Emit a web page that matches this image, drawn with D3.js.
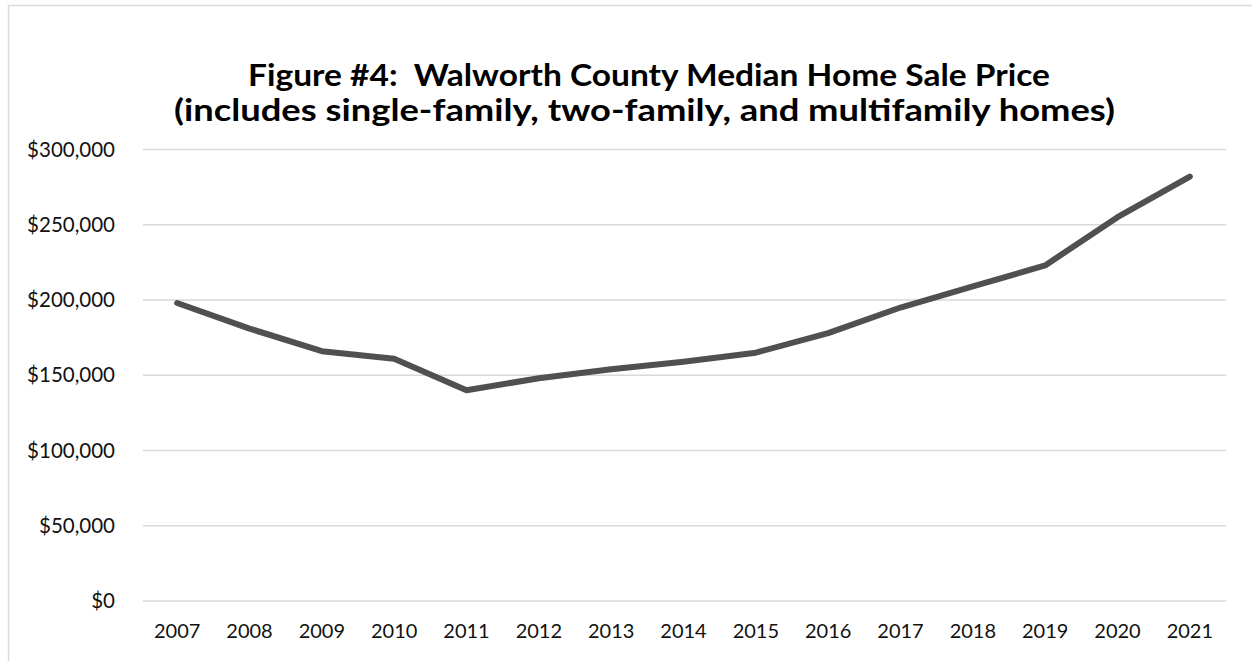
<!DOCTYPE html>
<html>
<head>
<meta charset="utf-8">
<script src="https://cdn.jsdelivr.net/npm/d3@7"></script>
<style>
  body { margin: 0; background: #fff; }
  svg { display: block; font-family: Lato, "Open Sans", sans-serif; }
</style>
</head>
<body>
<script>
// data (median sale price, dollars)
const years = ["2007", "2008", "2009", "2010", "2011", "2012", "2013", "2014",
    "2015", "2016", "2017", "2018", "2019", "2020", "2021"];
const prices = [198000, 181000, 166000, 161000, 140000, 148000, 154000, 159000,
    165000, 178000, 195000, 209000, 223000, 255000, 282000];
const yTicks = [0, 50000, 100000, 150000, 200000, 250000, 300000];
const titleLines = [
    "Figure #4:  Walworth County Median Home Sale Price",
    "(includes single-family, two-family, and multifamily homes)"
];

const width = 1252, height = 661;
const margin = { top: 150, right: 26, bottom: 60, left: 141 };

const svg = d3.select("body").append("svg")
    .attr("width", width)
    .attr("height", height);

// outer chart border (cropped at the right and bottom)
svg.append("path")
    .attr("d", `M8.5,${height} L8.5,5.5 L${width},5.5`)
    .attr("fill", "none")
    .attr("stroke", "#d9d9d9")
    .attr("stroke-width", 1.5);

// title
svg.append("g")
    .selectAll("text")
    .data(titleLines)
    .join("text")
    .attr("x", (d, i) => i == 0 ? 248 : 174)
    .attr("y", (d, i) => 86 + i * 35)
    .attr("textLength", (d, i) => i == 0 ? 802 : 941)
    .attr("lengthAdjust", "spacingAndGlyphs")
    .style("white-space", "pre")
    .style("font-size", "31px")
    .style("font-weight", "bold")
    .style("fill", "#000")
    .text((d) => d);

const x = d3.scaleBand()
    .domain(years)
    .range([margin.left, width - margin.right]);

const y = d3.scaleLinear()
    .domain([0, 300000])
    .range([601, 149.5]);

// gridlines
svg.append("g")
    .selectAll("line")
    .data(yTicks)
    .join("line")
    .attr("x1", margin.left + 2)
    .attr("x2", width - margin.right)
    .attr("y1", (d) => y(d))
    .attr("y2", (d) => y(d))
    .attr("stroke", "#d9d9d9")
    .attr("stroke-width", 1.5);

// y axis labels
const yAxis = svg.append("g")
    .attr("transform", "translate(" + 128 + ",0)")
    .call(d3.axisLeft(y).tickValues(yTicks).tickSize(0).tickPadding(13)
        .tickFormat((d) => "$" + d3.format(",")(d)));
yAxis.select(".domain").remove();
yAxis.selectAll("text")
    .style("font-size", "20.5px")
    .style("font-family", "Lato, sans-serif")
    .style("fill", "#111");

// x axis labels
const xAxis = svg.append("g")
    .attr("transform", "translate(0,618)")
    .call(d3.axisBottom(x).tickSize(0).tickPadding(6));
xAxis.select(".domain").remove();
xAxis.selectAll("text")
    .style("font-size", "20px")
    .style("font-family", "Lato, sans-serif")
    .style("fill", "#111");

// the line
const line = d3.line()
    .x((d, i) => x(years[i]) + x.bandwidth() / 2)
    .y((d) => y(d));

svg.append("path")
    .datum(prices)
    .attr("d", line)
    .attr("fill", "none")
    .attr("stroke", "#505050")
    .attr("stroke-width", 6)
    .attr("stroke-linejoin", "round")
    .attr("stroke-linecap", "round");
</script>
</body>
</html>
